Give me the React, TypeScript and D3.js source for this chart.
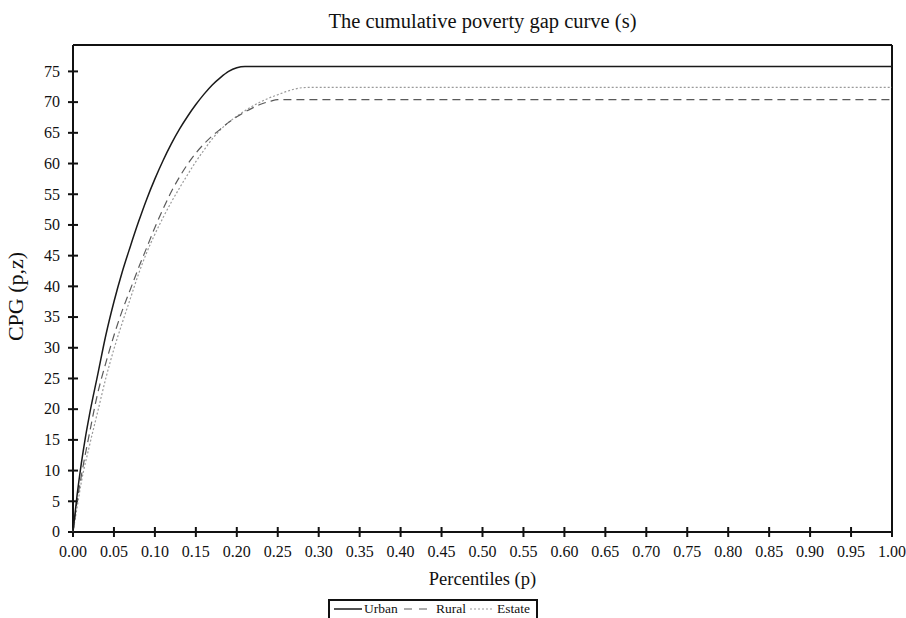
import React from "react";
import * as d3 from "d3";

const urbanP = [0, 0.005, 0.01, 0.015, 0.02, 0.03, 0.04, 0.05, 0.06, 0.07, 0.08, 0.09, 0.10, 0.11, 0.12, 0.13, 0.14, 0.15, 0.16, 0.17, 0.18, 0.19, 0.20, 0.21, 1.0];
const urbanV = [0, 6, 11, 15.3, 19, 25.5, 32, 37.5, 42.3, 46.5, 50.5, 54.2, 57.5, 60.5, 63.2, 65.6, 67.7, 69.6, 71.3, 72.8, 74.0, 75.0, 75.6, 75.8, 75.8];

const ruralP = [0, 0.005, 0.01, 0.02, 0.03, 0.04, 0.05, 0.06, 0.07, 0.08, 0.09, 0.10, 0.11, 0.12, 0.13, 0.14, 0.15, 0.16, 0.17, 0.18, 0.19, 0.20, 0.21, 0.22, 0.23, 0.24, 0.25, 1.0];
const ruralV = [0, 5, 9, 16, 22.5, 27.5, 32, 36, 39.5, 43, 46.3, 49.6, 52.6, 55.4, 57.8, 59.9, 61.7, 63.2, 64.5, 65.6, 66.7, 67.6, 68.4, 69.1, 69.7, 70.1, 70.4, 70.4];

const estateP = [0, 0.005, 0.01, 0.02, 0.03, 0.04, 0.05, 0.06, 0.07, 0.08, 0.09, 0.10, 0.11, 0.12, 0.13, 0.14, 0.15, 0.16, 0.17, 0.18, 0.19, 0.20, 0.21, 0.22, 0.23, 0.24, 0.25, 0.26, 0.27, 0.28, 0.29, 1.0];
const estateV = [0, 4, 8, 14, 19.5, 25, 29.8, 34, 38, 42, 45.5, 48.5, 51.2, 53.7, 56, 58.2, 60.3, 62.2, 64.0, 65.5, 66.7, 67.7, 68.6, 69.4, 70.1, 70.7, 71.2, 71.7, 72.1, 72.35, 72.4, 72.4];

const xTicks = d3.range(0, 21).map((i) => i * 0.05);
const yTicks = d3.range(0, 16).map((i) => i * 5);

const seriesNames = ["Urban", "Rural", "Estate"];

const W = 906;
const H = 618;
const left = 73;
const right = 892;
const top = 45;
const bottom = 532;

export default function App() {
  const x = d3.scaleLinear().domain([0, 1]).range([left, right]);
  const y = d3.scaleLinear().domain([0, 79.3]).range([bottom, top]);
  const line = d3
    .line<[number, number]>()
    .x((d) => x(d[0]))
    .y((d) => y(d[1]))
    .curve(d3.curveMonotoneX);

  const zip = (p: number[], v: number[]) => p.map((pp, i) => [pp, v[i]] as [number, number]);

  const series = [
    { name: seriesNames[0], data: zip(urbanP, urbanV), stroke: "#1a1a1a", dash: "none", w: 1.5 },
    { name: seriesNames[1], data: zip(ruralP, ruralV), stroke: "#5a5a5a", dash: "8,5", w: 1.2 },
    { name: seriesNames[2], data: zip(estateP, estateV), stroke: "#9a9a9a", dash: "2,2", w: 1.2 },
  ];

  const font = "'Liberation Serif', 'Times New Roman', serif";

  // legend layout
  const legX = 329;
  const legY = 600;
  const legItems = [
    { lx: legX + 5, lw: 28, tx: legX + 35 },
    { lx: legX + 75, lw: 24, tx: legX + 107 },
    { lx: legX + 141, lw: 24, tx: legX + 168 },
  ];

  return (
    <svg width={W} height={H} style={{ position: "absolute", left: 0, top: 0, background: "#fff" }} fontFamily={font}>
      <rect x={0} y={0} width={W} height={H} fill="#fff" />
      <text x={(left + right) / 2} y={28} textAnchor="middle" fontSize={20.5} fill="#111">
        The cumulative poverty gap curve (s)
      </text>

      {/* frame */}
      <line x1={left} x2={right} y1={top} y2={top} stroke="#111" strokeWidth={2} />
      <line x1={right} x2={right} y1={top} y2={bottom} stroke="#111" strokeWidth={2} />
      <line x1={left} x2={left} y1={top} y2={bottom} stroke="#111" strokeWidth={2} />
      <line x1={left} x2={right} y1={bottom} y2={bottom} stroke="#111" strokeWidth={2} />

      {/* y ticks */}
      {yTicks.map((t) => (
        <g key={"y" + t}>
          <line x1={left - 5} x2={left + 5} y1={y(t)} y2={y(t)} stroke="#111" strokeWidth={2} />
          <text x={left - 13} y={y(t)} dy="0.33em" textAnchor="end" fontSize={16} fill="#111">
            {t}
          </text>
        </g>
      ))}

      {/* x ticks */}
      {xTicks.map((t) => (
        <g key={"x" + t}>
          <line x1={x(t)} x2={x(t)} y1={bottom - 5} y2={bottom + 5} stroke="#111" strokeWidth={2} />
          <text x={x(t)} y={557} textAnchor="middle" fontSize={16} fill="#111">
            {t.toFixed(2)}
          </text>
        </g>
      ))}

      {/* axis titles */}
      <text x={(left + right) / 2} y={585} textAnchor="middle" fontSize={18.5} fill="#111">
        Percentiles (p)
      </text>
      <text
        transform={`translate(23,${(top + bottom) / 2 + 8}) rotate(-90)`}
        textAnchor="middle"
        fontSize={22}
        fill="#111"
      >
        CPG (p,z)
      </text>

      {/* series */}
      {series
        .slice()
        .reverse()
        .map((s) => (
          <path
            key={s.name}
            d={line(s.data) || ""}
            fill="none"
            stroke={s.stroke}
            strokeWidth={s.w}
            strokeDasharray={s.dash}
          />
        ))}

      {/* legend */}
      <rect x={legX} y={legY} width={208} height={30} fill="#fff" stroke="#111" strokeWidth={2} />
      {series.map((s, i) => (
        <g key={"leg" + s.name}>
          <line
            x1={legItems[i].lx}
            x2={legItems[i].lx + legItems[i].lw}
            y1={legY + 9}
            y2={legY + 9}
            stroke={s.stroke}
            strokeWidth={s.w}
            strokeDasharray={s.dash === "8,5" ? "8,7" : s.dash}
          />
          <text x={legItems[i].tx} y={legY + 13} fontSize={13.5} fill="#111">
            {s.name}
          </text>
        </g>
      ))}
    </svg>
  );
}
